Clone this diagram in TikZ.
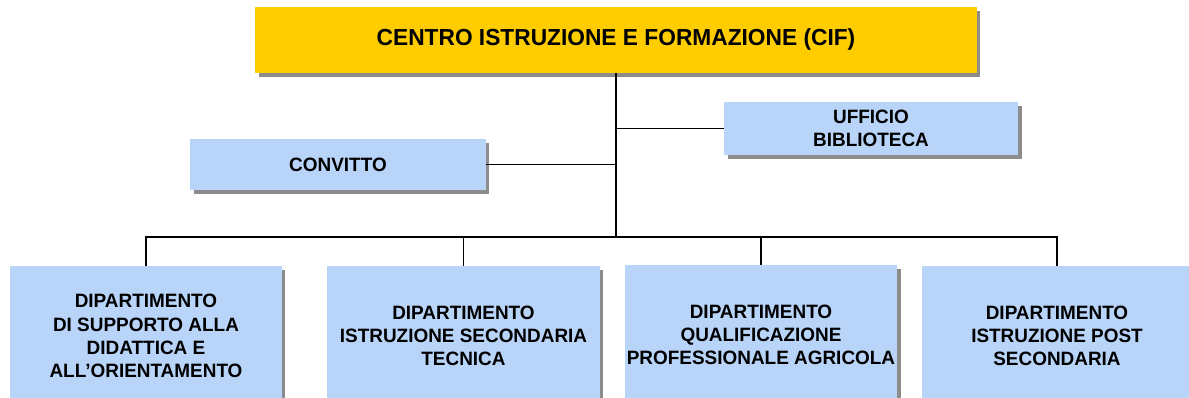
\documentclass[tikz,border=0pt]{standalone}
\usepackage{fontspec}
\setmainfont{Liberation Sans}[FakeStretch=0.98]
\usetikzlibrary{shadows}
\definecolor{cifgold}{RGB}{255,204,0}
\definecolor{deptblue}{RGB}{184,212,248}
\tikzset{
    box/.style={draw=none,align=center,inner sep=0pt,font=\bfseries\fontsize{11}{13.2}\selectfont,
        drop shadow={shadow xshift=2pt,shadow yshift=-2pt,fill=black!45,opacity=1}},
    topbox/.style={box,fill=cifgold,minimum width=14.44cm,minimum height=1.32cm,font=\bfseries\fontsize{13.2}{15}\selectfont},
    unitbox/.style={box,fill=deptblue,minimum width=5.9cm,minimum height=1.04cm},
    deptbox/.style={box,fill=deptblue,minimum width=5.44cm,minimum height=2.8cm},
    link/.style={line width=0.8pt,black}
}
\begin{document}
\begin{tikzpicture}[x=0.02cm,y=-0.02cm]
    \useasboundingbox (0,0) rectangle (1189,398);
    \clip (0,0) rectangle (1189,398);
    \node[topbox] (cif) at (616,40) {CENTRO ISTRUZIONE E FORMAZIONE (CIF)};
    \node[unitbox,minimum width=5.88cm,minimum height=1.06cm] (biblio) at (871,128.5) {UFFICIO\\BIBLIOTECA};
    \node[unitbox,minimum width=5.92cm,minimum height=1.02cm] (convitto) at (338,164.5) {CONVITTO};
    %\draw[help lines] (0,0) grid[step=50] (1189,398);
    \node[deptbox] (dipA) at (146,336) {DIPARTIMENTO\\DI SUPPORTO ALLA\\DIDATTICA E\\ALL'ORIENTAMENTO};
    \node[deptbox,minimum width=5.46cm] (dipB) at (463.5,336) {DIPARTIMENTO\\ISTRUZIONE SECONDARIA\\TECNICA};
    \node[deptbox] (dipC) at (761,335) {DIPARTIMENTO\\QUALIFICAZIONE\\PROFESSIONALE AGRICOLA};
    \node[deptbox,minimum width=5.4cm] (dipD) at (1057,336) {DIPARTIMENTO\\ISTRUZIONE POST\\SECONDARIA};
    \coordinate (bus) at (616,237);
    \draw[link] (cif.south) -- (bus);
    \draw[link] (biblio.west) -- (biblio.west -| bus);
    \draw[link] (convitto.east) -- (convitto.east -| bus);
    \draw[link] (bus) -| (dipA.north) (bus) -| (dipB.north);
    \draw[link] (bus) -| (dipC.north) (bus) -| (dipD.north);
\end{tikzpicture}
\end{document}
